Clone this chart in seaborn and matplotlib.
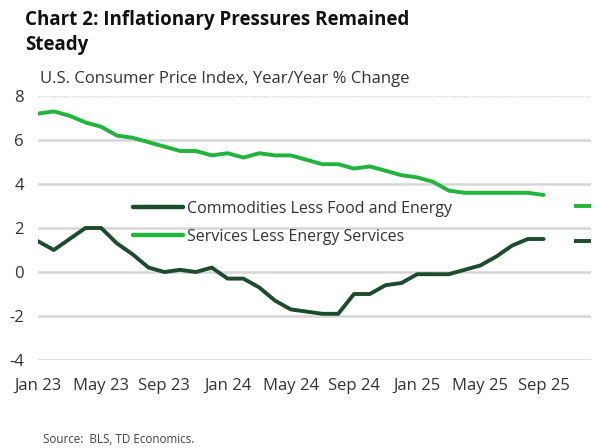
import numpy as np
import pandas as pd
import matplotlib
matplotlib.use('Agg')
import matplotlib.pyplot as plt
import seaborn as sns

# monthly data, Jan 23 .. Sep 25
months = list(range(33))
commodities = [1.4, 1.0, 1.5, 2.0, 2.0, 1.3, 0.8, 0.2, 0.0, 0.1, 0.0, 0.2,
               -0.3, -0.3, -0.7, -1.3, -1.7, -1.8, -1.9, -1.9, -1.0, -1.0, -0.6, -0.5,
               -0.1, -0.1, -0.1, 0.1, 0.3, 0.7, 1.2, 1.5, 1.5]
services = [7.2, 7.3, 7.1, 6.8, 6.6, 6.2, 6.1, 5.9, 5.7, 5.5, 5.5, 5.3,
            5.4, 5.2, 5.4, 5.3, 5.3, 5.1, 4.9, 4.9, 4.7, 4.8, 4.6, 4.4,
            4.3, 4.1, 3.7, 3.6, 3.6, 3.6, 3.6, 3.6, 3.5]
series_names = ['Commodities Less Food and Energy', 'Services Less Energy Services']
# short marks at the right edge
right_marks = {'Services Less Energy Services': 3.0, 'Commodities Less Food and Energy': 1.4}
tick_pos = [0, 4, 8, 12, 16, 20, 24, 28, 32]
tick_labels = ['Jan 23', 'May 23', 'Sep 23', 'Jan 24', 'May 24', 'Sep 24', 'Jan 25', 'May 25', 'Sep 25']
y_ticks = [-4, -2, 0, 2, 4, 6, 8]

colors = {'Commodities Less Food and Energy': '#1b4d2c', 'Services Less Energy Services': '#1fb53a'}

df = pd.DataFrame({
    'month': months * 2,
    'value': commodities + services,
    'series': [series_names[0]] * len(months) + [series_names[1]] * len(months),
})

sns.set_style('white')
plt.rcParams['font.family'] = ['Open Sans', 'DejaVu Sans']
plt.rcParams['axes.unicode_minus'] = False

fig = plt.figure(figsize=(6, 4.48), dpi=100)
ax = fig.add_axes([0.0633, 0.1964, 0.9217, 0.5893])

for y in y_ticks:
    ls = (0, (1, 1)) if y == 8 else '-'
    lw = 1.0 if y == 8 else 1.8
    ax.axhline(y, color='#d6d6d6', lw=lw, ls=ls, zorder=0)

sns.lineplot(data=df, x='month', y='value', hue='series', hue_order=series_names,
             palette=colors, linewidth=2.8, ax=ax, legend=True)

for name, val in right_marks.items():
    ax.plot([33.9, 35], [val, val], color=colors[name], lw=2.8, solid_capstyle='butt')

ax.set_xlim(0, 35)
ax.set_ylim(-4, 8)
ax.set_xticks(tick_pos)
ax.set_xticklabels(tick_labels)
ax.set_yticks(y_ticks)
ax.set_xlabel('')
ax.set_ylabel('')
ax.tick_params(axis='both', length=0, labelsize=12, colors='#333333')
ax.tick_params(axis='y', pad=10)
ax.tick_params(axis='x', pad=13)
for s in ax.spines.values():
    s.set_visible(False)

leg = ax.legend(loc='upper left', bbox_to_anchor=(0.172, 0.603), frameon=False,
                fontsize=11.5, handlelength=3.1, handletextpad=0.3, labelspacing=0.75,
                borderaxespad=0, borderpad=0)
for h in leg.get_lines():
    h.set_linewidth(3.2)
for t in leg.get_texts():
    t.set_color('#333333')

fig.text(0.042, 1 - 25 / 448, 'Chart 2: Inflationary Pressures Remained', fontsize=13.5,
         fontweight='bold', va='baseline', ha='left', color='#111111')
fig.text(0.042, 1 - 50 / 448, 'Steady', fontsize=13.5,
         fontweight='bold', va='baseline', ha='left', color='#111111')
fig.text(0.0667, 1 - 83 / 448, 'U.S. Consumer Price Index, Year/Year % Change', fontsize=12,
         va='baseline', ha='left', color='#333333')
fig.text(0.072, 0.02, 'Source:  BLS, TD Economics.', fontsize=8.4, va='center', ha='left',
         color='#444444')

fig.savefig('out.png', dpi=100)
plt.close()
